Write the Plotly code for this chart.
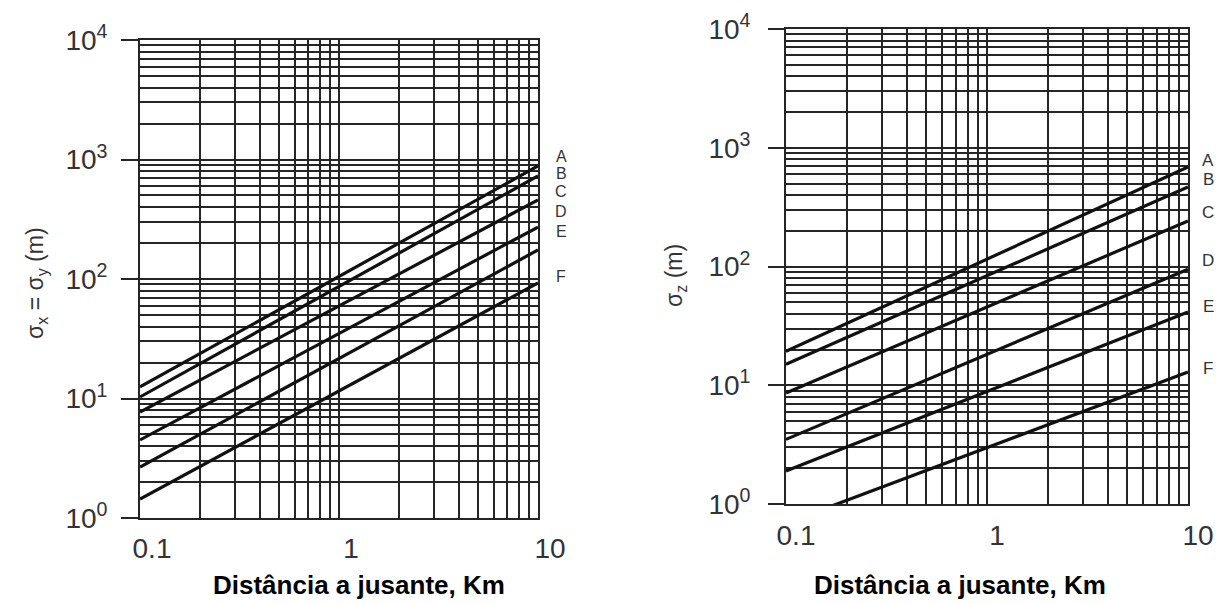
import plotly.graph_objects as go

# Downwind distance (km) at the two ends of each straight log-log line
distance_km = [0.1, 10]
stability_classes = ["A", "B", "C", "D", "E", "F"]

# Horizontal dispersion coefficient sigma_x = sigma_y (m)
sigma_y_A = [12.5, 883]
sigma_y_B = [10.3, 728]
sigma_y_C = [7.7, 459]
sigma_y_D = [4.5, 272]
sigma_y_E = [2.67, 175]
sigma_y_F = [1.44, 92.6]

# Vertical dispersion coefficient sigma_z (m)
sigma_z_A = [19.3, 689]
sigma_z_B = [15.0, 467]
sigma_z_C = [8.6, 242]
sigma_z_D = [3.5, 95]
sigma_z_E = [1.9, 41.4]
sigma_z_F = [0.69, 12.9]

x_tick_vals = [0.1, 1, 10]
x_tick_text = ["0.1", "1", "10"]
y_tick_vals = [1, 10, 100, 1000, 10000]
y_tick_text = ["10<sup>0</sup>", "10<sup>1</sup>", "10<sup>2</sup>",
               "10<sup>3</sup>", "10<sup>4</sup>"]

x_title = "Distância a jusante, Km"

W, H = 1230, 604
FONT = "Liberation Sans, Arial, Helvetica, sans-serif"
GRID = "#252525"
TXT = "#333333"


def px(x):
    return x / W


def py(y):
    return 1 - y / H


def minor_vals(lo_exp, hi_exp):
    vals = []
    for e in range(lo_exp, hi_exp):
        for m in range(2, 10):
            vals.append(m * 10.0 ** e)
    return vals


sig_y = [sigma_y_A, sigma_y_B, sigma_y_C, sigma_y_D, sigma_y_E, sigma_y_F]
sig_z = [sigma_z_A, sigma_z_B, sigma_z_C, sigma_z_D, sigma_z_E, sigma_z_F]

fig = go.Figure()
for name, vals in zip(stability_classes, sig_y):
    fig.add_trace(go.Scatter(x=distance_km, y=vals, mode="lines", name=name,
                             line=dict(color="#111111", width=3.2),
                             xaxis="x", yaxis="y", showlegend=False))
for name, vals in zip(stability_classes, sig_z):
    fig.add_trace(go.Scatter(x=distance_km, y=vals, mode="lines", name=name,
                             line=dict(color="#111111", width=3.2),
                             xaxis="x2", yaxis="y2", showlegend=False))


def x_axis(domain, anchor, shift, standoff):
    return dict(
        domain=domain, type="log", range=[-1, 1], anchor=anchor,
        automargin=False,
        tickmode="array", tickvals=x_tick_vals, ticktext=x_tick_text,
        ticks="", showgrid=True, gridcolor=GRID, gridwidth=1.6,
        minor=dict(tickvals=minor_vals(-1, 1), showgrid=True,
                   gridcolor=GRID, gridwidth=1.6, ticks=""),
        showline=True, mirror=True, linecolor=GRID, linewidth=1.8,
        zeroline=False, tickfont=dict(family=FONT, size=28, color=TXT),
        ticklabelshift=shift, ticklabelstandoff=standoff,
    )


def y_axis(domain, anchor, ticklen, standoff):
    return dict(
        domain=domain, type="log", range=[0, 4], anchor=anchor,
        automargin=False,
        tickmode="array", tickvals=y_tick_vals, ticktext=y_tick_text,
        ticks="outside", ticklen=ticklen, tickwidth=1.8, tickcolor=GRID,
        showgrid=True, gridcolor=GRID, gridwidth=1.6,
        minor=dict(tickvals=minor_vals(0, 4), showgrid=True,
                   gridcolor=GRID, gridwidth=1.6, ticks=""),
        showline=True, mirror=True, linecolor=GRID, linewidth=1.8,
        zeroline=False, tickfont=dict(family=FONT, size=28, color=TXT),
        ticklabelstandoff=standoff,
    )


annotations = []
# stability class letters next to the line ends
left_letter_y = [157, 173, 191, 211, 232, 276]
right_letter_y = [160, 180, 212, 261, 306, 368]
for name, yy in zip(stability_classes, left_letter_y):
    annotations.append(dict(text=name, x=px(561), y=py(yy), xref="paper", yref="paper",
                            showarrow=False, xanchor="center", yanchor="middle",
                            font=dict(family=FONT, size=16, color=TXT)))
for name, yy in zip(stability_classes, right_letter_y):
    annotations.append(dict(text=name, x=px(1208), y=py(yy), xref="paper", yref="paper",
                            showarrow=False, xanchor="center", yanchor="middle",
                            font=dict(family=FONT, size=17, color=TXT)))

# axis titles
annotations.append(dict(text="σ<sub>x</sub> = σ<sub>y</sub> (m)", x=px(36), y=py(283),
                        xref="paper", yref="paper", showarrow=False, textangle=-90,
                        xanchor="center", yanchor="middle",
                        font=dict(family=FONT, size=23, color=TXT)))
annotations.append(dict(text="σ<sub>z</sub> (m)", x=px(675), y=py(276),
                        xref="paper", yref="paper", showarrow=False, textangle=-90,
                        xanchor="center", yanchor="middle",
                        font=dict(family=FONT, size=23, color=TXT)))
for cx in (359, 960):
    annotations.append(dict(text="<b>" + x_title + "</b>", x=px(cx), y=py(585),
                            xref="paper", yref="paper", showarrow=False,
                            xanchor="center", yanchor="middle",
                            font=dict(family=FONT, size=26, color="#000000")))

fig.update_layout(
    width=W, height=H, margin=dict(l=0, r=0, t=0, b=0, autoexpand=False),
    paper_bgcolor="white", plot_bgcolor="white",
    xaxis=x_axis([px(140), px(538)], "y", 12, 4),
    yaxis=y_axis([py(518), py(40)], "x", 17, 8),
    xaxis2=x_axis([px(786), px(1188)], "y2", 10, 5),
    yaxis2=y_axis([py(504), py(29)], "x2", 16, 12),
    annotations=annotations,
)

fig.write_html("out.html")
